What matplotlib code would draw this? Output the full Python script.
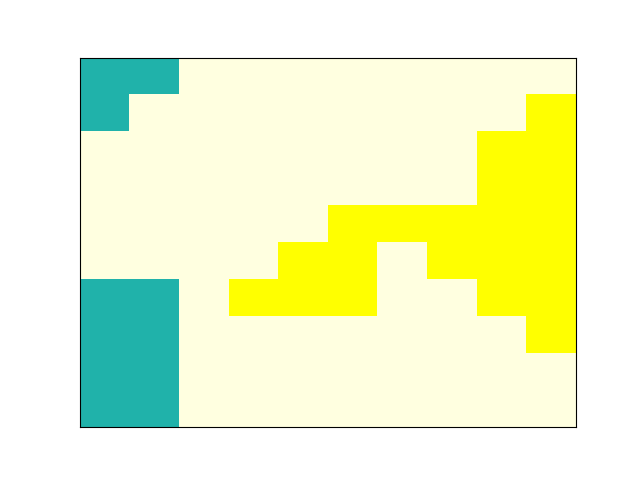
import numpy as np
import matplotlib
matplotlib.use("Agg")
import matplotlib.pyplot as plt
from matplotlib.colors import ListedColormap

# 0 = teal, 1 = light yellow, 2 = yellow  (rows top to bottom)
grid = [
    [0, 0, 1, 1, 1, 1, 1, 1, 1, 1],
    [0, 1, 1, 1, 1, 1, 1, 1, 1, 2],
    [1, 1, 1, 1, 1, 1, 1, 1, 2, 2],
    [1, 1, 1, 1, 1, 1, 1, 1, 2, 2],
    [1, 1, 1, 1, 1, 2, 2, 2, 2, 2],
    [1, 1, 1, 1, 2, 2, 1, 2, 2, 2],
    [0, 0, 1, 2, 2, 2, 1, 1, 2, 2],
    [0, 0, 1, 1, 1, 1, 1, 1, 1, 2],
    [0, 0, 1, 1, 1, 1, 1, 1, 1, 1],
    [0, 0, 1, 1, 1, 1, 1, 1, 1, 1],
]
colors = ['lightseagreen', 'lightyellow', 'yellow']

fig = plt.figure(figsize=(6.4, 4.8), dpi=100)
ax = fig.add_subplot(111)
ax.imshow(np.array(grid), cmap=ListedColormap(colors), vmin=0, vmax=2,
          aspect='auto', interpolation='nearest')
ax.set_xticks([])
ax.set_yticks([])
fig.savefig('out.png')
